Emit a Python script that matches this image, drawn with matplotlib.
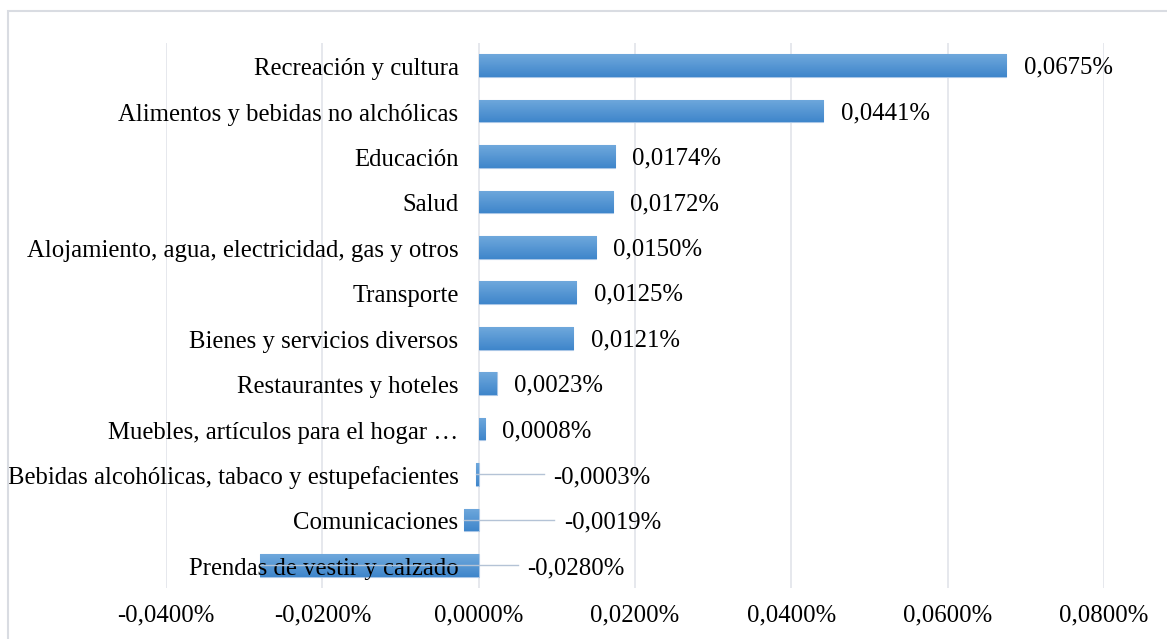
import matplotlib
matplotlib.use("Agg")
import matplotlib.pyplot as plt
import numpy as np
from matplotlib.patches import Rectangle
from matplotlib.colors import LinearSegmentedColormap

categories = [
    "Recreación y cultura",
    "Alimentos y bebidas no alchólicas",
    "Educación",
    "Salud",
    "Alojamiento, agua, electricidad, gas y otros",
    "Transporte",
    "Bienes y servicios diversos",
    "Restaurantes y hoteles",
    "Muebles, artículos para el hogar …",
    "Bebidas alcohólicas, tabaco y estupefacientes",
    "Comunicaciones",
    "Prendas de vestir y calzado",
]
values = [0.0675, 0.0441, 0.0174, 0.0172, 0.0150, 0.0125, 0.0121, 0.0023, 0.0008, -0.0003, -0.0019, -0.0280]
labels = ["0,0675%", "0,0441%", "0,0174%", "0,0172%", "0,0150%", "0,0125%", "0,0121%",
          "0,0023%", "0,0008%", "-0,0003%", "-0,0019%", "-0,0280%"]
# label positions for negative values (data x where the leader line ends)
neg_label_x = {9: 0.0083, 10: 0.0097, 11: 0.0050}
xticks = [-0.04, -0.02, 0.0, 0.02, 0.04, 0.06, 0.08]
xticklabels = ["-0,0400%", "-0,0200%", "0,0000%", "0,0200%", "0,0400%", "0,0600%", "0,0800%"]

plt.rcParams['font.family'] = ['Liberation Serif', 'DejaVu Serif']
FS = 17.8

W, H = 1167, 639
fig = plt.figure(figsize=(W/100, H/100), dpi=100)
ax = fig.add_axes([166/W, 1-588/H, (1104-166)/W, (588-43)/H])

n = len(categories)
y = np.arange(n)
bars = ax.barh(y, values, height=0.5, color="#5B9BD5", edgecolor="#A9C6E6", linewidth=0.8, zorder=3)

cmap = LinearSegmentedColormap.from_list("g", ["#6FA8DC", "#3F86CB"])
grad = np.linspace(0, 1, 64).reshape(-1, 1)
for b in bars:
    x0, y0 = b.get_x(), b.get_y()
    w, h = b.get_width(), b.get_height()
    im = ax.imshow(grad, cmap=cmap, aspect="auto", extent=(x0, x0 + w, y0 + h, y0),
                   zorder=3.5, interpolation="bilinear")
    im.set_clip_path(b)

ax.set_xlim(-0.04, 0.08)
ax.set_ylim(n - 0.5, -0.5)
ax.set_xticks(xticks)
ax.set_xticklabels(xticklabels, fontsize=FS)
ax.set_yticks([])
ax.tick_params(axis="x", length=0, pad=12)
ax.grid(axis="x", color="#E1E4EA", linewidth=1.2, zorder=0)
for s in ax.spines.values():
    s.set_visible(False)

for i, (cat, v, lab) in enumerate(zip(categories, values, labels)):
    ax.annotate(cat, xy=(0, i), xytext=(-14.5, -2.5), textcoords="offset points",
                ha="right", va="center", fontsize=FS, color="#000000", zorder=5)
    if v >= 0:
        ax.annotate(lab, xy=(v, i), xytext=(12.5, -1.5), textcoords="offset points",
                    ha="left", va="center", fontsize=FS, color="#000000", zorder=5)
    else:
        lx = neg_label_x[i]
        ax.plot([v, lx], [i, i], color="#B4C3D6", linewidth=1.0, zorder=6)
        ax.annotate(lab, xy=(lx, i), xytext=(7, -2), textcoords="offset points",
                    ha="left", va="center", fontsize=FS, color="#000000", zorder=5)

fig.patches.append(Rectangle((8/W, -0.1), 1.2, 1 - 11/H + 0.1, transform=fig.transFigure,
                             fill=False, edgecolor="#D9DCE2", linewidth=1.5))

fig.savefig("out.png", dpi=100)
